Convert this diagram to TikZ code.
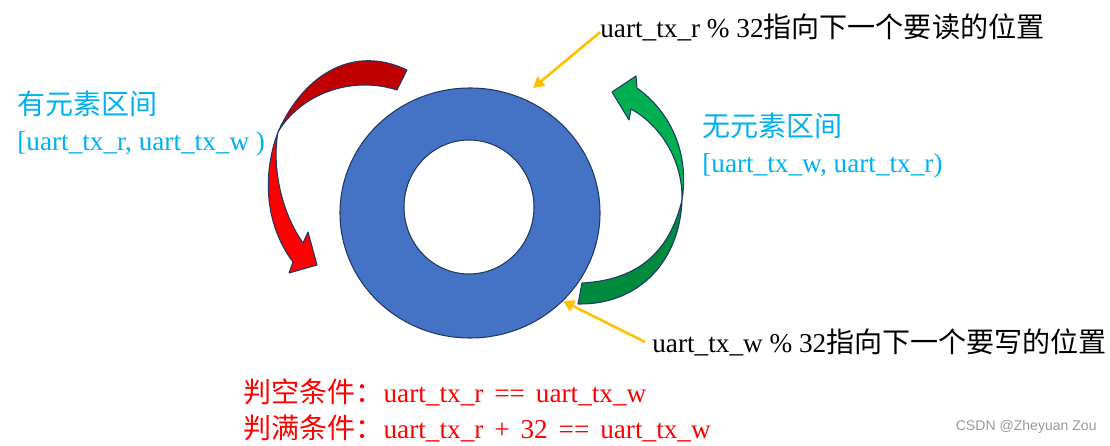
\documentclass[tikz,border=0pt]{standalone}
\usepackage{fontspec}
\setmainfont{Liberation Serif}
\newfontfamily\cjk[Scale=1.03]{Noto Sans CJK SC}
\newfontfamily\wmfont{Liberation Sans}
\usepackage{tikz}
\usetikzlibrary{arrows.meta,positioning}

\definecolor{ringblue}{HTML}{4472C4}
\definecolor{edgenavy}{HTML}{1F3864}
\definecolor{darkred}{HTML}{C00000}
\definecolor{lightgreen}{HTML}{00B050}
\definecolor{darkgreen}{HTML}{008A3E}
\definecolor{ptryellow}{HTML}{FFC000}
\definecolor{cyantxt}{HTML}{00B0F0}
\newcommand\opsp{\hspace{0.4em}}

\begin{document}
\begin{tikzpicture}[x=0.02cm,y=-0.02cm,
	lbl/.style={inner sep=0pt,align=left,font=\fontsize{15.5}{20.5}\selectfont},
	band/.style={draw=edgenavy,line width=0.6pt,line join=round},
	pointer/.style={draw=ptryellow,line width=1.5pt,-{Triangle[length=2.2mm,width=2.4mm]}}]
	\useasboundingbox (0,0) rectangle (1110,446);

	% ring buffer
	\fill[ringblue,even odd rule] (470,213) ellipse [x radius=130,y radius=125]
		(469,207) ellipse [x radius=65,y radius=67];
	\draw[band] (470,213) ellipse [x radius=130,y radius=125];
	\draw[band] (469,207) ellipse [x radius=65,y radius=67];
	\coordinate (rpos) at (533,88);
	\coordinate (wpos) at (563,301);

	% red arrow (elements)
	\filldraw[band,fill=darkred] (407,70) .. controls (355,45) and (305,72) .. (278,132)
		.. controls (300,95) and (350,75) .. (397,90) -- cycle;
	\filldraw[band,fill=red] (278,132) .. controls (262,175) and (265,225) .. (293,262)
		-- (289,273) -- (317,265) -- (308,232) -- (303,243)
		.. controls (280,210) and (272,165) .. (278,132) -- cycle;

	% green arrow (free slots)
	\filldraw[band,fill=darkgreen] (682,200) .. controls (680,260) and (640,305) .. (578,304)
		-- (582,283) .. controls (640,280) and (670,250) .. (682,200) -- cycle;
	\filldraw[band,fill=lightgreen] (637,88) .. controls (668,110) and (690,150) .. (682,200)
		.. controls (683,160) and (660,125) .. (631,109)
		-- (629,120) -- (612,92) -- (636,76) -- cycle;

	% labels
	\node[lbl,anchor=west] (rlabel) at (600,27) {uart\_tx\_r \% 32{\cjk 指向下一个要读的位置}};
	\node[lbl,anchor=west] (wlabel) at (652,342) {uart\_tx\_w \% 32{\cjk 指向下一个要写的位置}};
	\node[lbl,anchor=west,text=cyantxt] (fullset) at (17,124) {{\cjk 有元素区间}\\{}[uart\_tx\_r, uart\_tx\_w )};
	\node[lbl,anchor=west,text=cyantxt] (emptyset) at (702,146) {{\cjk 无元素区间}\\{}[uart\_tx\_w, uart\_tx\_r)};
	\node[lbl,anchor=west,text=red] (cond) at (243,410) {{\cjk 判空条件：}uart\_tx\_r\opsp==\opsp uart\_tx\_w\\
		{\cjk 判满条件：}uart\_tx\_r\opsp+\opsp32\opsp==\opsp uart\_tx\_w};
	\node[inner sep=0pt,anchor=east,text=gray!80,font=\wmfont\fontsize{8}{10}\selectfont] (mark) at (1097,427) {CSDN @Zheyuan Zou};

	\draw[pointer] ([yshift=-3pt]rlabel.west) -- (rpos);
	\draw[pointer] ([xshift=-4pt]wlabel.west) -- (wpos);
\end{tikzpicture}
\end{document}
